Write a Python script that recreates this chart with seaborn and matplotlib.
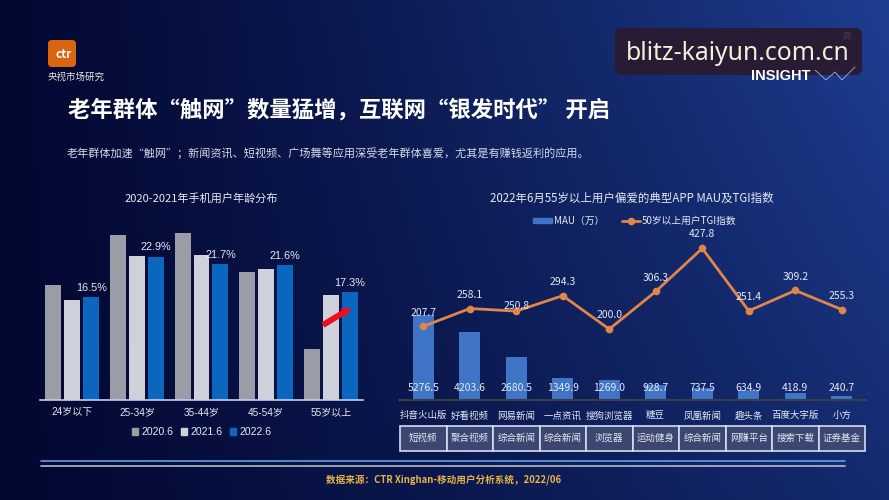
import numpy as np
import pandas as pd
import matplotlib
matplotlib.use('Agg')
import matplotlib.pyplot as plt
from matplotlib.lines import Line2D
from matplotlib.patches import FancyArrow, FancyBboxPatch, Patch
import seaborn as sns

# left chart data
age_groups = ['24岁以下', '25-34岁', '35-44岁', '45-54岁', '55岁以上']
share_2020 = [18.3, 26.4, 26.7, 20.5, 8.2]
share_2021 = [16.0, 23.0, 23.2, 21.0, 16.8]
share_2022 = [16.5, 22.9, 21.7, 21.6, 17.3]
periods = ['2020.6', '2021.6', '2022.6']

# right chart data
apps = ['抖音火山版', '好看视频', '网易新闻', '一点资讯', '搜狗浏览器', '糖豆', '凤凰新闻', '趣头条', '百度大字版', '小方']
app_types = ['短视频', '聚合视频', '综合新闻', '综合新闻', '浏览器', '运动健身', '综合新闻', '网赚平台', '搜索下载', '证券基金']
mau = [5276.5, 4203.6, 2680.5, 1349.9, 1269.0, 928.7, 737.5, 634.9, 418.9, 240.7]
tgi = [207.7, 258.1, 250.8, 294.3, 200.0, 306.3, 427.8, 251.4, 309.2, 255.3]

W, H = 889, 500
TEXT = '#e6e9f2'
ARIAL_CJK = ['Liberation Sans', 'Noto Sans CJK SC']

sns.set_theme(style='white')
plt.rcParams['font.family'] = ['Noto Sans CJK SC', 'DejaVu Sans']
plt.rcParams['axes.unicode_minus'] = False

fig = plt.figure(figsize=(W / 100, H / 100), dpi=100)


def px_axes(x0, x1, top, bottom):
    ax = fig.add_axes([x0 / W, 1 - bottom / H, (x1 - x0) / W, (bottom - top) / H], zorder=2)
    ax.patch.set_alpha(0)
    return ax


# background gradient
bg = fig.add_axes([0, 0, 1, 1], zorder=0)
gx, gy = np.meshgrid(np.linspace(0, 1, 300), np.linspace(0, 1, 170))
t = np.clip(gx ** 1.2 * (1.0 - 0.35 * gy), 0, 1)[..., None]
bg.imshow((1 - t) * np.array([3, 8, 50]) / 255 + t * np.array([30, 62, 145]) / 255, aspect='auto')
bg.axis('off')

# left chart
share_df = pd.DataFrame({
    'age': age_groups * 3,
    'period': np.repeat(periods, 5),
    'share': share_2020 + share_2021 + share_2022,
})
ax1 = px_axes(40, 363, 220, 400)
sns.barplot(data=share_df, x='age', y='share', hue='period', palette=['#9a9ca6', '#cfd1da', '#0a66bf'],
            width=0.88, gap=0.16, saturation=1, linewidth=0, ax=ax1, legend=False)
ax1.bar_label(ax1.containers[2], labels=[f'{v}%' for v in share_2022], padding=3, color=TEXT, fontsize=7.8,
              family=ARIAL_CJK)
ax1.set_xlim(-0.5, 4.5)
ax1.set_ylim(0, 180 / 6.26)
ax1.set_xlabel('')
ax1.set_ylabel('')
ax1.set_yticks([])
ax1.tick_params(axis='x', length=0, pad=5, labelsize=7.2, labelcolor=TEXT, labelfontfamily=ARIAL_CJK)
sns.despine(ax=ax1, left=True)
ax1.spines['bottom'].set_color('#c5cde8')
ax1.spines['bottom'].set_linewidth(1.2)
handles1 = [Patch(color=c, label=p) for c, p in zip(['#9a9ca6', '#cfd1da', '#0a66bf'], periods)]
ax1.legend(handles=handles1, loc='center', bbox_to_anchor=(0.5, -32 / 180), ncol=3, frameon=False,
           prop={'family': ARIAL_CJK, 'size': 7.6},
           labelcolor=TEXT, handlelength=0.6, handleheight=0.6, handletextpad=0.3, columnspacing=0.7)

# right chart
ax2 = px_axes(400, 865, 230, 400)
sns.barplot(x=np.arange(len(apps)), y=mau, color='#3f74c6', width=0.46, saturation=1, linewidth=0, ax=ax2)
ax2.set_xlim(-0.5, 9.5)
ax2.set_ylim(0, 170 / 0.0161)
ax2.set_yticks([])
ax2.set_xticks(range(len(apps)), apps)
ax2.tick_params(axis='x', length=0, pad=8, labelsize=6.8, labelcolor=TEXT)
sns.despine(ax=ax2, left=True)
ax2.spines['bottom'].set_color('#dfe6fa')
ax2.spines['bottom'].set_linewidth(1.4)
for i, v in enumerate(mau):
    ax2.text(i, 12 / 170, f'{v}', transform=ax2.get_xaxis_transform(), ha='center', va='center',
             color=TEXT, fontsize=7.5, zorder=6)

tw = ax2.twinx()
tw.patch.set_alpha(0)
sns.lineplot(x=np.arange(len(apps)), y=tgi, color='#de8748', lw=2, marker='o', markersize=5.5,
             markeredgewidth=0, ax=tw, legend=False)
tw.set_ylim(0, 170 / 0.3544)
tw.set_yticks([])
tw.set_ylabel('')
sns.despine(ax=tw, left=True, right=True)
for i, v in enumerate(tgi):
    # 250.8 sits right on top of the line in the original
    dy = 4 if v == 250.8 else 10
    tw.annotate(f'{v}', (i, v), xytext=(0, dy), textcoords='offset points', ha='center', va='center',
                color=TEXT, fontsize=7.5)

handles2 = [Patch(color='#3f74c6', label='MAU（万）'),
            Line2D([], [], color='#de8748', lw=2, marker='o', markersize=4.5, label='50岁以上用户TGI指数')]
fig.legend(handles=handles2, loc='center', bbox_to_anchor=(635 / W, 1 - 221 / H), ncol=2, frameon=False, fontsize=7,
           labelcolor=TEXT, handlelength=1.9, handleheight=0.5, handletextpad=0.2, columnspacing=1.8)

cat_table = ax2.table(cellText=[app_types], cellLoc='center', bbox=[0, -51 / 170, 1, 25 / 170])
cat_table.auto_set_font_size(False)
for cell in cat_table.get_celld().values():
    cell.set_facecolor('#3b4771')
    cell.set_edgecolor('#d3ddf5')
    cell.set_linewidth(1.2)
    cell.get_text().set_color(TEXT)
    cell.get_text().set_fontsize(6.8)

# titles, logo and everything else in pixel coordinates
fg = fig.add_axes([0, 0, 1, 1], zorder=5)
fg.set_xlim(0, W)
fg.set_ylim(H, 0)
fg.axis('off')

fg.text(68, 110, '老年群体“触网”数量猛增，互联网“银发时代” 开启', color='white', fontsize=16.1,
        fontweight='bold', va='center')
fg.text(67, 153, '老年群体加速“触网”；新闻资讯、短视频、广场舞等应用深受老年群体喜爱，尤其是有赚钱返利的应用。',
        color='#d5d9e6', fontsize=8, va='center')
fg.text(201, 198, '2020-2021年手机用户年龄分布', color=TEXT, fontsize=8, ha='center', va='center')
fg.text(632, 198, '2022年6月55岁以上用户偏爱的典型APP MAU及TGI指数', color=TEXT, fontsize=8.25, ha='center', va='center')

fg.add_patch(FancyArrow(323, 325, 28, -17, width=6, head_width=11, head_length=9, length_includes_head=True,
                        color='#e8101c', lw=0))

fg.plot([41, 845], [460.5, 460.5], color='#5f9fe6', lw=1.2)
fg.plot([41, 845], [465.5, 465.5], color='#b6bac8', lw=1.2)
fg.text(444, 481, '数据来源：CTR Xinghan-移动用户分析系统，2022/06', color='#e6b445', fontsize=6.9,
        fontweight='bold', ha='center', va='center')

# logo
fg.add_patch(FancyBboxPatch((49, 41), 26, 25, boxstyle='round,pad=1,rounding_size=4', color='#d9660f', lw=0))
fg.text(64, 55, 'ctr', color='white', fontsize=8.5, fontweight='bold', ha='center', va='center')
fg.text(76, 77, '央视市场研究', color='#e8e8e8', fontsize=6.8, ha='center', va='center')

# faded brand mark and watermark box over it
fg.text(781, 76, 'INSIGHT', color='white', fontsize=10.5, fontweight='bold', family='Liberation Sans',
        ha='center', va='center')
fg.plot([815, 826, 835, 842, 855], [70, 80, 72, 80, 67], color='#9fb4dc', lw=0.6)
fg.add_patch(FancyBboxPatch((619, 32), 239, 39, boxstyle='round,pad=4,rounding_size=7', color='#291b33', lw=0))
fg.text(738, 53, 'blitz-kaiyun.com.cn', color='#f6eed8', fontsize=17.8, family='Noto Sans', ha='center', va='center')
fg.text(846, 36, '洞', color='#4a3e52', fontsize=6.5, ha='center', va='center')

fig.savefig('out.png', dpi=100)
